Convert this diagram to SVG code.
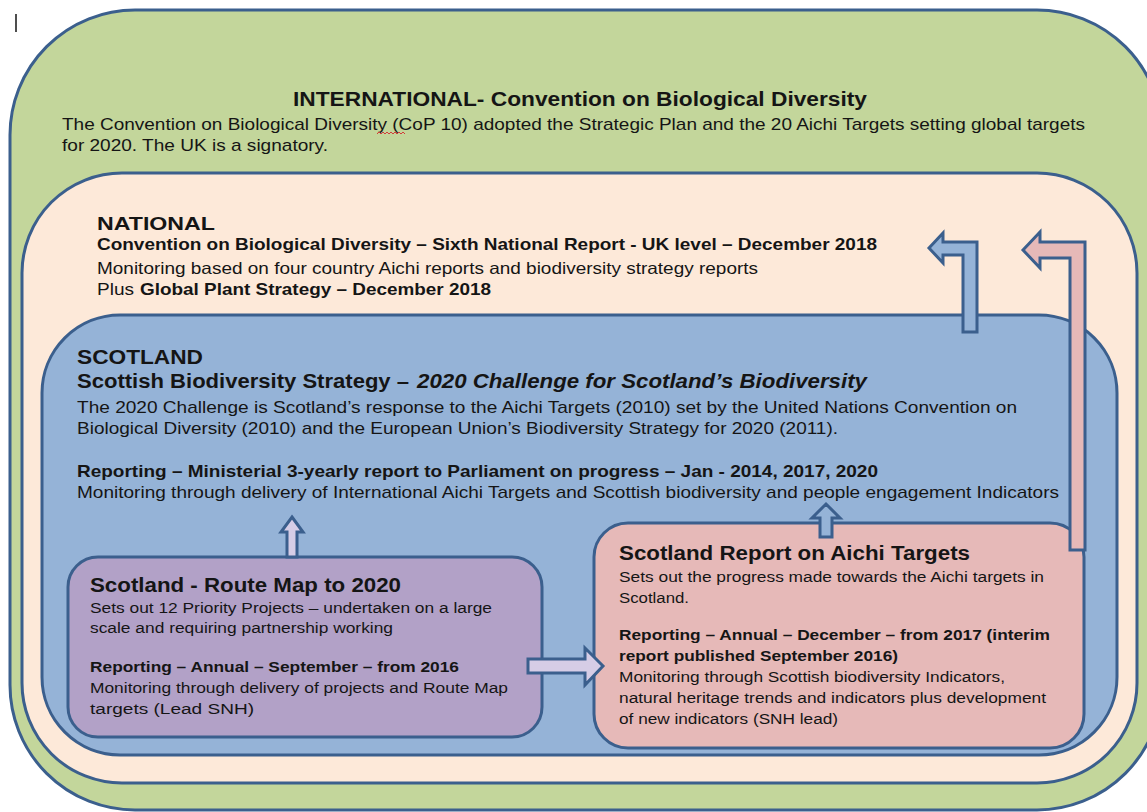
<svg xmlns="http://www.w3.org/2000/svg" width="1147" height="812" viewBox="0 0 1147 812">
  <style>
    .frame { stroke: #3b5f8d; stroke-width: 3; }
    .arrow { stroke: #3b5f8d; stroke-width: 3; stroke-linejoin: miter; }
    text { font-family: "Liberation Sans", Arial, sans-serif; fill: #151515; }
    .h1 { font-size: 20px; font-weight: bold; }
    .h2 { font-size: 18px; font-weight: bold; }
    .b17 { font-size: 17px; }
    .b17b { font-size: 17px; font-weight: bold; }
    .b16 { font-size: 16.5px; }
    .b16b { font-size: 16.5px; font-weight: bold; }
    .b15 { font-size: 15.5px; }
    .b15b { font-size: 15.5px; font-weight: bold; }
    .it { font-style: italic; }
  </style>

  <rect x="0" y="0" width="1147" height="812" fill="#ffffff"/>

  <!-- text cursor mark -->
  <line x1="16" y1="14" x2="16" y2="32" stroke="#222" stroke-width="1.6"/>

  <!-- INTERNATIONAL level -->
  <g id="international">
    <rect class="frame" x="10" y="10" width="1152" height="800" rx="125" fill="#c3d69b"/>
    <text class="h1" x="293" y="106" textLength="574" lengthAdjust="spacingAndGlyphs">INTERNATIONAL- Convention on Biological Diversity</text>
    <text class="b17" x="62" y="130" textLength="1023" lengthAdjust="spacingAndGlyphs">The Convention on Biological Diversity (CoP 10) adopted the Strategic Plan and the 20 Aichi Targets setting global targets</text>
    <text class="b17" x="62" y="151" textLength="266" lengthAdjust="spacingAndGlyphs">for 2020. The UK is a signatory.</text>
    <!-- spell-check underline -->
    <path d="M377 134 l2 -2 l2 2 l2 -2 l2 2 l2 -2 l2 2 l2 -2 l2 2 l2 -2 l2 2 l2 -2 l2 2 l2 -2 l2 2" fill="none" stroke="#d23b3b" stroke-width="1"/>
  </g>

  <!-- NATIONAL level -->
  <g id="national">
    <rect class="frame" x="22" y="173" width="1115" height="610" rx="100" fill="#fde9d9"/>
    <text class="h2" x="97" y="230" textLength="118" lengthAdjust="spacingAndGlyphs">NATIONAL</text>
    <text class="b16b" x="97" y="250" textLength="780" lengthAdjust="spacingAndGlyphs">Convention on Biological Diversity – Sixth National Report - UK level – December 2018</text>
    <text class="b16" x="97" y="274" textLength="661" lengthAdjust="spacingAndGlyphs">Monitoring based on four country Aichi reports and biodiversity strategy reports</text>
    <text class="b16" x="97" y="295" textLength="37" lengthAdjust="spacingAndGlyphs">Plus</text>
    <text class="b16b" x="140" y="295" textLength="351" lengthAdjust="spacingAndGlyphs">Global Plant Strategy – December 2018</text>
  </g>

  <!-- SCOTLAND level -->
  <g id="scotland">
    <rect class="frame" x="42" y="315" width="1075" height="440" rx="78" fill="#95b3d7"/>
    <text class="h1" x="77" y="364" textLength="126" lengthAdjust="spacingAndGlyphs">SCOTLAND</text>
    <text class="h1" x="77" y="388" textLength="332" lengthAdjust="spacingAndGlyphs">Scottish Biodiversity Strategy –</text>
    <text class="h1 it" x="417" y="388" textLength="450" lengthAdjust="spacingAndGlyphs">2020 Challenge for Scotland’s Biodiversity</text>
    <text class="b17" x="77" y="413" textLength="940" lengthAdjust="spacingAndGlyphs">The 2020 Challenge is Scotland’s response to the Aichi Targets (2010) set by the United Nations Convention on</text>
    <text class="b17" x="77" y="434" textLength="761" lengthAdjust="spacingAndGlyphs">Biological Diversity (2010) and the European Union’s Biodiversity Strategy for 2020 (2011).</text>
    <text class="b17b" x="77" y="477" textLength="801" lengthAdjust="spacingAndGlyphs">Reporting – Ministerial  3-yearly report to Parliament on progress – Jan - 2014, 2017, 2020</text>
    <text class="b17" x="77" y="498" textLength="982" lengthAdjust="spacingAndGlyphs">Monitoring through delivery of International Aichi Targets and Scottish biodiversity and people engagement Indicators</text>
  </g>

  <!-- Route Map box -->
  <g id="route-map">
    <rect class="frame" x="68" y="557" width="474" height="180" rx="30" fill="#b2a1c7"/>
    <text class="h1" x="90" y="592" textLength="311" lengthAdjust="spacingAndGlyphs">Scotland - Route Map to 2020</text>
    <text class="b15" x="90" y="613" textLength="402" lengthAdjust="spacingAndGlyphs">Sets out 12 Priority Projects – undertaken on a large</text>
    <text class="b15" x="90" y="633" textLength="303" lengthAdjust="spacingAndGlyphs">scale and requiring partnership working</text>
    <text class="b15b" x="90" y="672" textLength="369" lengthAdjust="spacingAndGlyphs">Reporting – Annual –  September – from 2016</text>
    <text class="b15" x="90" y="693" textLength="418" lengthAdjust="spacingAndGlyphs">Monitoring through delivery of projects and Route Map</text>
    <text class="b15" x="90" y="714" textLength="164" lengthAdjust="spacingAndGlyphs">targets (Lead SNH)</text>
  </g>

  <!-- Aichi report box -->
  <g id="aichi-report">
    <rect class="frame" x="594" y="523" width="490" height="225" rx="34" fill="#e6b9b8"/>
    <text class="h1" x="619" y="560" textLength="351" lengthAdjust="spacingAndGlyphs">Scotland Report on Aichi Targets</text>
    <text class="b15" x="619" y="582" textLength="425" lengthAdjust="spacingAndGlyphs">Sets out the progress made towards the Aichi targets in</text>
    <text class="b15" x="619" y="603" textLength="70" lengthAdjust="spacingAndGlyphs">Scotland.</text>
    <text class="b15b" x="619" y="640" textLength="431" lengthAdjust="spacingAndGlyphs">Reporting – Annual – December – from 2017 (interim</text>
    <text class="b15b" x="619" y="661" textLength="279" lengthAdjust="spacingAndGlyphs">report published  September 2016)</text>
    <text class="b15" x="619" y="682" textLength="386" lengthAdjust="spacingAndGlyphs">Monitoring through Scottish biodiversity Indicators,</text>
    <text class="b15" x="619" y="703" textLength="427" lengthAdjust="spacingAndGlyphs">natural heritage trends and indicators plus development</text>
    <text class="b15" x="619" y="724" textLength="219" lengthAdjust="spacingAndGlyphs">of new indicators (SNH lead)</text>
  </g>

  <!-- connectors -->
  <g id="connectors">
    <!-- Route Map up to Scottish strategy -->
    <polygon class="arrow" fill="#d6cde6" points="292,517 303,532 297,532 297,557 287,557 287,532 281,532"/>
    <!-- Aichi report up to Scottish strategy -->
    <polygon class="arrow" fill="#95b3d7" points="826,504 840,518 832,518 832,537 820,537 820,518 812,518"/>
    <!-- Route Map across to Aichi report -->
    <polygon class="arrow" fill="#d6cde6" points="528,659 585,659 585,648 603,666 585,685 585,673 528,673"/>
    <!-- Scottish strategy up to national report -->
    <polygon class="arrow" fill="#95b3d7" points="929,248 943,233 943,242 977,242 977,332 963,332 963,255 943,255 943,263"/>
    <!-- Aichi report up to national report -->
    <polygon class="arrow" fill="#e6b9b8" points="1023,250 1040,232 1040,242 1085,242 1085,550 1070,550 1070,258 1040,258 1040,268"/>
  </g>
</svg>
